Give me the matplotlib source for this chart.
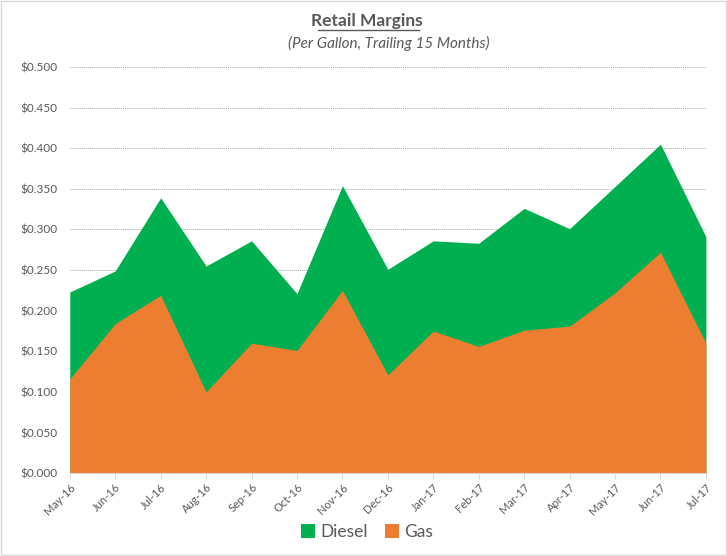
import matplotlib.pyplot as plt
from matplotlib.ticker import FuncFormatter

plt.rcParams['font.family'] = ['Lato', 'DejaVu Sans']

months = ["May-16", "Jun-16", "Jul-16", "Aug-16", "Sep-16", "Oct-16", "Nov-16", "Dec-16",
          "Jan-17", "Feb-17", "Mar-17", "Apr-17", "May-17", "Jun-17", "Jul-17"]
diesel = [0.223, 0.249, 0.339, 0.255, 0.286, 0.221, 0.354, 0.251,
          0.286, 0.283, 0.326, 0.301, 0.353, 0.405, 0.291]
gas = [0.116, 0.184, 0.219, 0.100, 0.160, 0.151, 0.225, 0.121,
       0.175, 0.156, 0.176, 0.181, 0.222, 0.272, 0.160]

green = '#00B050'
orange = '#ED7D31'
grey = '#595959'

fig = plt.figure(figsize=(7.27, 5.56), dpi=100)
ax = fig.add_axes([0.096, 0.149, 0.875, 0.7305])

x = range(len(months))
# diesel drawn behind gas, not stacked
ax.fill_between(x, 0, diesel, color=green, linewidth=0, label='Diesel', zorder=2)
ax.fill_between(x, 0, gas, color=orange, linewidth=0, label='Gas', zorder=3)

ax.set_xlim(0, len(months) - 1)
ax.set_ylim(0, 0.5)
ax.set_yticks([i * 0.05 for i in range(11)])
ax.yaxis.set_major_formatter(FuncFormatter(lambda v, p: '${:.3f}'.format(v)))
ax.grid(axis='y', color='#A6A6A6', linestyle=(0, (1, 1)), linewidth=0.7, zorder=1)
ax.set_xticks(list(x))
ax.set_xticklabels(months, rotation=45, ha='right', rotation_mode='anchor')

for s in ['top', 'right', 'left']:
    ax.spines[s].set_visible(False)
ax.spines['bottom'].set_color('#D9D9D9')
ax.spines['bottom'].set_zorder(4)
ax.tick_params(axis='y', length=0, labelsize=8.5, labelcolor=grey, pad=9)
ax.tick_params(axis='x', length=4, color='#D9D9D9', labelsize=8, labelcolor=grey, pad=2)

fig.text(0.504, 0.963, 'Retail Margins', ha='center', va='center', fontsize=12.5,
         fontweight='bold', color=grey)
fig.add_artist(plt.Line2D([0.437, 0.576], [0.946, 0.946], color=grey, linewidth=1))
fig.text(0.535, 0.922, '(Per Gallon, Trailing 15 Months)', ha='center', va='center',
         fontsize=11, style='italic', color=grey)

leg = fig.legend(loc='center', bbox_to_anchor=(0.505, 0.043), ncol=2, frameon=False,
                 fontsize=12.5, handlelength=0.8, handleheight=0.8, handletextpad=0.3,
                 columnspacing=1.0)
for t in leg.get_texts():
    t.set_color(grey)

fig.add_artist(plt.Rectangle((0.001, 0.001), 0.997, 0.997, fill=False,
                             edgecolor='#D9D9D9', linewidth=1, transform=fig.transFigure))

fig.savefig('out.png', dpi=100)
